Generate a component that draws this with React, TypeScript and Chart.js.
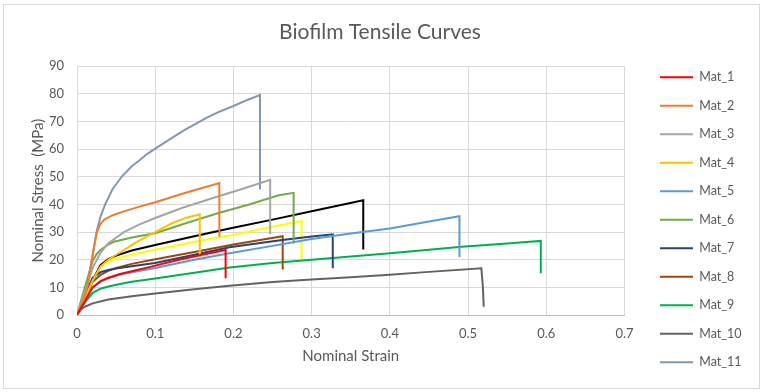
import React, { useEffect, useRef } from "react";
import { Chart, registerables } from "chart.js";

Chart.register(...registerables);

const FONT = "Lato, 'Open Sans', sans-serif";
const TEXT = "#595959";

const seriesNames = ["Mat_1", "Mat_2", "Mat_3", "Mat_4", "Mat_5", "Mat_6", "Mat_7", "Mat_8", "Mat_9", "Mat_10", "Mat_11", "", ""];
const seriesColors = ["#FF0000", "#ED7D31", "#A5A5A5", "#FFC000", "#5B9BD5", "#70AD47", "#264478", "#9E480E", "#00B050", "#636363", "#8497B0", "#000000", "#FFFF00"];

const mat1 = [[0,0],[0.01,5],[0.02,10],[0.03,12.3],[0.04,13.5],[0.055,14.8],[0.07,15.8],[0.095,17.5],[0.13,20],[0.16,21.8],[0.19,23.5],[0.19,13.3]];
const mat2 = [[0,0],[0.005,3.5],[0.01,7],[0.013,10],[0.016,15],[0.019,20],[0.022,25],[0.025,29.5],[0.028,31.8],[0.03,33],[0.035,34.5],[0.045,36],[0.06,37.5],[0.08,39.2],[0.1,40.8],[0.14,44.3],[0.182,47.7],[0.182,28.3]];
const mat3 = [[0,0],[0.01,8.5],[0.02,17],[0.03,22.5],[0.04,26],[0.06,30],[0.08,32.8],[0.1,35.1],[0.135,38.8],[0.178,42.7],[0.21,45.5],[0.247,48.9],[0.247,29.3]];
const mat4 = [[0,0],[0.01,6],[0.02,12.5],[0.03,17.5],[0.04,20],[0.05,21.8],[0.06,23.5],[0.07,25.3],[0.08,27],[0.1,30],[0.12,33],[0.14,35.2],[0.157,36.4],[0.157,21]];
const mat5 = [[0,0],[0.01,5],[0.02,10],[0.03,12],[0.04,13.3],[0.055,14.6],[0.07,15.5],[0.1,17],[0.15,20],[0.195,22.3],[0.25,25],[0.3,27.5],[0.35,29.5],[0.4,31.3],[0.45,33.8],[0.489,35.7],[0.489,20.9]];
const mat6 = [[0,0],[0.01,10],[0.02,19.5],[0.025,22],[0.03,23.5],[0.04,25.5],[0.047,26.5],[0.07,28],[0.1,29.6],[0.14,33.3],[0.18,36.8],[0.22,40],[0.258,43.3],[0.277,44.2],[0.277,25.9]];
const mat7 = [[0,0],[0.01,7],[0.02,13.5],[0.03,15.5],[0.04,16.3],[0.05,16.8],[0.07,17.6],[0.1,18.8],[0.15,21.8],[0.195,24.5],[0.26,27],[0.3,28.4],[0.327,29.2],[0.327,16.9]];
const mat8 = [[0,0],[0.01,6],[0.02,12],[0.03,14.5],[0.04,16],[0.05,17],[0.07,18.5],[0.1,20.2],[0.15,22.8],[0.2,25.5],[0.263,28.5],[0.263,16.5]];
const mat9 = [[0,0],[0.01,4.5],[0.02,8],[0.03,9.5],[0.04,10.3],[0.055,11.2],[0.07,12],[0.1,13.2],[0.15,15.3],[0.195,17.2],[0.25,18.8],[0.3,20],[0.35,21.2],[0.4,22.3],[0.45,23.6],[0.492,24.7],[0.55,25.9],[0.593,26.8],[0.593,15.1]];
const mat10 = [[0,0],[0.005,2],[0.01,3],[0.02,4.2],[0.04,5.6],[0.07,6.8],[0.1,7.8],[0.15,9.3],[0.195,10.6],[0.25,11.9],[0.3,12.8],[0.35,13.7],[0.4,14.6],[0.45,15.6],[0.517,16.9],[0.519,10],[0.52,3]];
const mat11 = [[0,0],[0.005,3.5],[0.01,7],[0.013,10],[0.016,15],[0.019,20],[0.022,25],[0.025,30],[0.03,35.5],[0.036,40],[0.045,45.3],[0.057,50],[0.07,53.8],[0.08,56],[0.09,58.3],[0.1,60.2],[0.11,62],[0.12,63.8],[0.13,65.6],[0.14,67.3],[0.15,68.9],[0.166,71.4],[0.18,73.3],[0.2,75.6],[0.217,77.7],[0.234,79.6],[0.234,45.5]];
const extraBlack = [[0,0],[0.01,6],[0.02,12.5],[0.03,18],[0.04,20.2],[0.05,21.5],[0.07,23.3],[0.1,25.3],[0.15,28.5],[0.195,31.3],[0.25,34.5],[0.3,37.5],[0.366,41.5],[0.366,23.7]];
const extraYellow = [[0,0],[0.01,6],[0.02,12.5],[0.03,17.5],[0.04,19.3],[0.05,20.4],[0.068,21.7],[0.098,23.5],[0.15,26.5],[0.2,29],[0.259,32.5],[0.287,34],[0.287,19.5]];

const seriesData = [mat1, mat2, mat3, mat4, mat5, mat6, mat7, mat8, mat9, mat10, mat11, extraBlack, extraYellow];

const xTicks = [0, 0.1, 0.2, 0.3, 0.4, 0.5, 0.6, 0.7];
const yTicks = [0, 10, 20, 30, 40, 50, 60, 70, 80, 90];

const legendPlacer = {
  id: "legendPlacer",
  beforeLayout(chart: any) {
    const lg = chart.legend;
    if (lg && !lg._patched) {
      const orig = lg.fit.bind(lg);
      lg.fit = function () {
        orig();
        this.width += 6;
      };
      lg._patched = true;
    }
  },
  afterLayout(chart: any) {
    const lg = chart.legend;
    if (lg) {
      lg.left = 644;
      lg.right = lg.left + lg.width;
      lg.top = 55;
      lg.bottom = lg.top + lg.height;
    }
  },
};

export default function App() {
  const ref = useRef<HTMLCanvasElement | null>(null);

  useEffect(() => {
    document.body.style.margin = "0";
    const canvas = ref.current;
    if (!canvas) return;
    const chart = new Chart(canvas, {
      type: "scatter",
      data: {
        datasets: seriesData.map((pts, i) => ({
          label: seriesNames[i],
          data: pts.map(([x, y]) => ({ x, y })),
          borderColor: seriesColors[i],
          backgroundColor: seriesColors[i],
          borderWidth: 2,
          showLine: true,
          pointRadius: 0,
          pointHoverRadius: 0,
          tension: 0,
        })),
      },
      options: {
        responsive: false,
        animation: false,
        layout: { padding: { left: 22, right: 25, top: 0, bottom: 0 } },
        plugins: {
          title: {
            display: true,
            text: "Biofilm Tensile Curves",
            color: TEXT,
            font: { family: FONT, size: 21, weight: "normal" },
            padding: { top: 20, bottom: 21 },
          },
          legend: {
            position: "right",
            align: "start",
            labels: {
              usePointStyle: true,
              pointStyle: "line",
              pointStyleWidth: 33,
              color: TEXT,
              font: { family: FONT, size: 12.5 },
              padding: 16,
              filter: (item: any) => item.datasetIndex < 11,
            },
          },
          tooltip: { enabled: false },
        },
        scales: {
          x: {
            type: "linear",
            min: xTicks[0],
            max: xTicks[xTicks.length - 1],
            afterBuildTicks: (s: any) => { s.ticks = xTicks.map((v) => ({ value: v })); },
            afterFit: (s: any) => { s.height = 77; },
            ticks: {
              color: TEXT,
              font: { family: FONT, size: 13 },
              padding: 11,
              callback: (v: any) => String(Number(Number(v).toFixed(1))),
            },
            grid: { color: "#D9D9D9", drawTicks: false },
            border: { color: "#BFBFBF" },
            title: {
              display: true,
              text: "Nominal Strain",
              color: TEXT,
              font: { family: FONT, size: 15 },
              padding: { top: 0, bottom: 27 },
            },
          },
          y: {
            type: "linear",
            min: yTicks[0],
            max: yTicks[yTicks.length - 1],
            afterBuildTicks: (s: any) => { s.ticks = yTicks.map((v) => ({ value: v })); },
            afterFit: (s: any) => { s.width = 55; },
            ticks: {
              color: TEXT,
              font: { family: FONT, size: 13 },
              padding: 13,
            },
            grid: { color: "#D9D9D9", drawTicks: false },
            border: { display: false },
            title: {
              display: true,
              text: "Nominal Stress  (MPa)",
              color: TEXT,
              font: { family: FONT, size: 15 },
              padding: { top: 7, bottom: 0 },
            },
          },
        },
      },
      plugins: [legendPlacer],
    } as any);
    return () => chart.destroy();
  }, []);

  return (
    <div style={{ position: "relative", width: 763, height: 392, background: "#fff" }}>
      <canvas ref={ref} width={763} height={392} style={{ display: "block" }} />
      <div
        style={{
          position: "absolute",
          left: 3,
          top: 4,
          width: 757,
          height: 385,
          border: "1px solid #D9D9D9",
          pointerEvents: "none",
          boxSizing: "border-box",
        }}
      />
    </div>
  );
}
